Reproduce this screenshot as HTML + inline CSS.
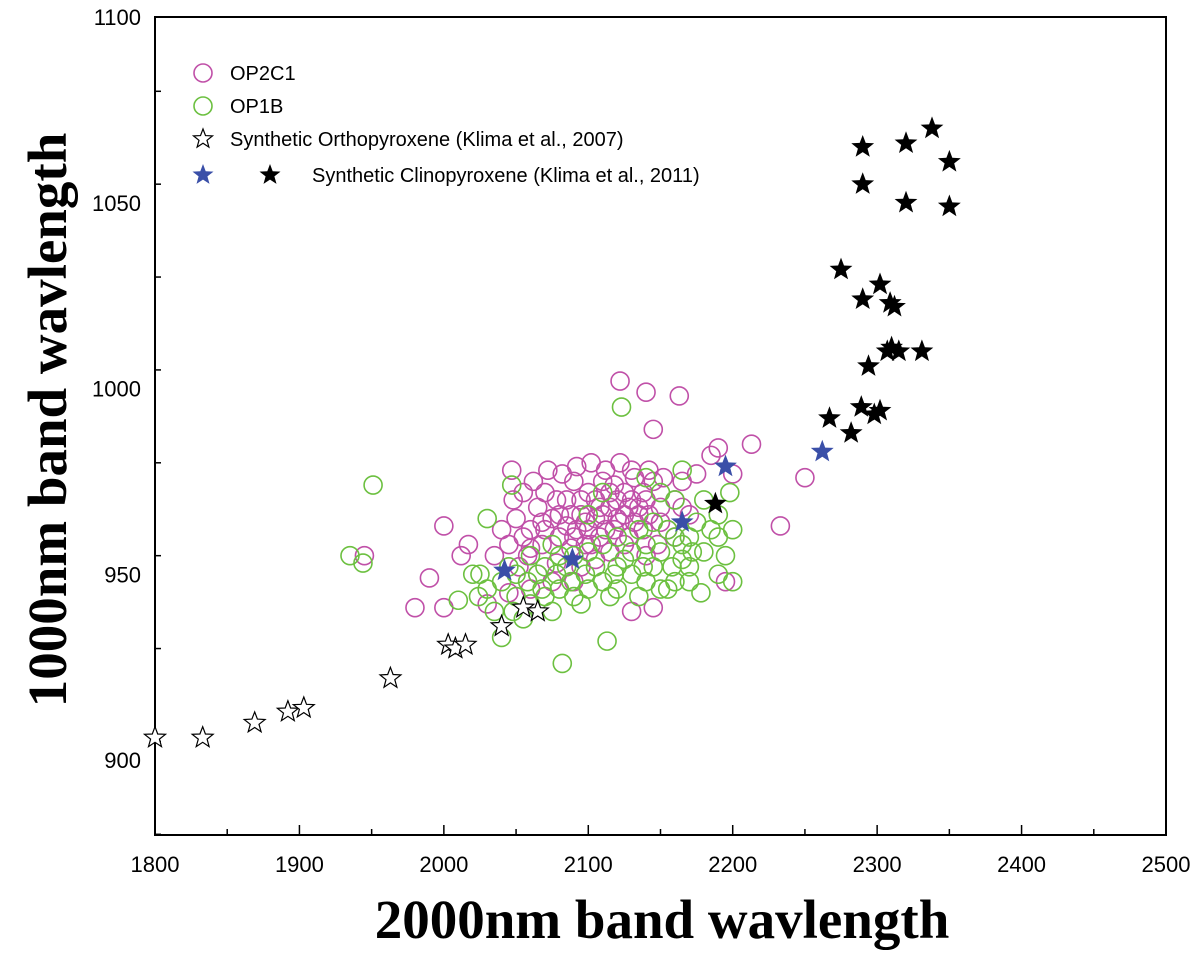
<!DOCTYPE html>
<html><head><meta charset="utf-8"><style>body{margin:0;background:#fff}svg{display:block}</style></head>
<body>
<svg id="chart" width="1200" height="958" xmlns="http://www.w3.org/2000/svg"></svg>
<script>
const xTicks=[1800,1900,2000,2100,2200,2300,2400,2500];
const yTicks=[900,950,1000,1050,1100];
const op2c1=[[2122,1002],[2140,999],[2163,998],[2145,989],[2213,985],[2250,976],[2233,963],[2000,963],[1945,955],[1990,949],[1980,941],[2000,941],[2047,978],[2048,970],[2017,958],[2012,955],[2030,942],[2145,941],[2130,940],[2195,948],[2190,984],[2200,977],[2175,977],[2185,982],
[2050,965],[2055,960],[2060,962],[2065,968],[2070,972],[2075,965],[2080,960],[2085,970],[2090,975],[2095,966],[2100,962],[2105,970],[2110,975],[2115,968],[2120,965],[2125,972],[2130,978],[2135,966],[2140,970],[2145,975],[2150,968],[2155,962],[2160,970],[2165,975],[2058,955],[2068,958],[2078,953],[2088,957],[2098,958],[2108,960],[2118,962],[2128,960],[2138,962],[2148,958],[2062,975],[2072,978],[2082,977],[2092,979],[2102,980],[2112,978],[2122,980],[2132,976],[2142,978],[2152,976],[2085,963],[2095,970],[2105,965],[2115,972],[2125,966],[2135,968],[2110,966],[2120,970],[2130,970],[2100,972],[2090,960],[2080,966],[2070,962],[2060,957],[2052,952],[2045,958],[2040,962],[2035,955],[2065,950],[2075,948],[2140,955],[2150,964],[2160,960],[2170,966],[2125,958],[2115,956],[2105,954],[2095,952],[2055,972],[2165,968],[2045,945],[2060,946],[2090,948],
[2118,974],[2128,968],[2138,972],[2108,968],[2098,964],[2088,966],[2078,970],[2068,964],[2112,962],[2122,964],[2132,964],[2142,966],[2102,958],[2092,962]];
const op1b=[[1951,974],[1935,955],[1944,953],[2123,995],[2082,926],[2113,932],[2040,933],[2030,965],[2200,962],[2198,972],[2200,948],[2190,950],[2178,945],[2010,943],[2024,944],[2047,974],[2020,950],[2030,946],[2040,948],[2050,944],[2060,942],[2070,944],[2080,946],[2090,944],[2100,946],[2110,948],[2120,946],[2130,950],[2140,948],[2150,946],[2160,948],[2170,952],[2180,956],[2190,960],[2035,940],[2055,938],[2075,940],[2095,942],[2045,952],[2065,950],[2085,952],[2105,952],[2125,954],[2145,952],[2165,954],[2185,962],[2110,958],[2120,960],[2130,956],[2140,958],[2150,956],[2160,960],[2170,960],[2100,956],[2090,955],[2080,955],[2070,952],[2135,962],[2145,964],[2155,962],[2165,958],[2175,964],[2180,970],[2190,966],[2160,970],[2150,972],[2140,976],[2165,978],[2100,966],[2110,972],[2075,958],[2060,955],[2050,950],[2025,950],[2115,944],[2135,944],[2155,946],[2170,948],[2195,955],[2120,952],[2088,948],[2068,946],[2048,940],
[2058,948],[2078,950],[2098,950],[2118,950],[2138,952],[2158,952],[2172,956]];
const orthoStars=[[1800,906],[1833,906],[1869,910],[1892,913],[1903,914],[1963,922],[2003,931],[2008,930],[2015,931],[2040,936],[2055,941],[2065,940]];
const clinoBlue=[[2042,951],[2089,954],[2165,964],[2195,979],[2262,983]];
const clinoBlack=[[2188,969],[2267,992],[2282,988],[2289,995],[2298,993],[2302,994],[2294,1006],[2307,1010],[2310,1011],[2315,1010],[2331,1010],[2275,1032],[2290,1024],[2302,1028],[2309,1023],[2312,1022],[2290,1055],[2290,1065],[2320,1066],[2338,1070],[2350,1061],[2320,1050],[2350,1049]];

const L=155,R=1166,T=17,B=835;
const sx=v=>L+(v-1800)*(R-L)/700;
const sy=v=>T+(1100-v)*(760-T)/200;
const svg=document.getElementById('chart');
const NS='http://www.w3.org/2000/svg';
function mk(tag,attrs,parent){const e=document.createElementNS(NS,tag);for(const k in attrs)e.setAttribute(k,attrs[k]);(parent||svg).appendChild(e);return e;}
function starPts(cx,cy,r){let p=[];for(let i=0;i<10;i++){const a=-Math.PI/2+i*Math.PI/5;const rr=i%2?r*0.42:r;p.push((cx+rr*Math.cos(a)).toFixed(1)+','+(cy+rr*Math.sin(a)).toFixed(1));}return p.join(' ');}

const frame=mk('rect',{x:L,y:T,width:R-L,height:B-T,fill:'none',stroke:'#000','stroke-width':2});


for(let v=1800;v<=2500;v+=50){const x=sx(v);const major=v%100===0;const t=mk('line',{x1:x,x2:x,y1:B,y2:B-(major?10:6),stroke:'#000','stroke-width':1.5});

}
xTicks.forEach(v=>{const t=mk('text',{x:sx(v),y:B+37,'text-anchor':'middle','font-family':'Liberation Sans, sans-serif','font-size':22});t.textContent=v;

});
for(let v=880;v<=1100;v+=25){const y=sy(v);const major=v%50===0;const t=mk('line',{x1:L,x2:L+(major?10:6),y1:y,y2:y,stroke:'#000','stroke-width':1.5});

}
yTicks.forEach(v=>{const t=mk('text',{x:L-14,y:sy(v)+8,'text-anchor':'end','font-family':'Liberation Sans, sans-serif','font-size':22});t.textContent=v;

});
const xt=mk('text',{x:662,y:938,'text-anchor':'middle','font-family':'Liberation Serif, serif','font-size':55,'font-weight':'bold'});xt.textContent='2000nm band wavlength';


const yt=mk('text',{x:0,y:0,transform:'translate(66,420) rotate(-90)','text-anchor':'middle','font-family':'Liberation Serif, serif','font-size':55,'font-weight':'bold'});yt.textContent='1000nm band wavlength';



const g=mk('g',{});
op2c1.forEach(d=>{const c=mk('circle',{cx:sx(d[0]),cy:sy(d[1]),r:9,fill:'none',stroke:'#c050a8','stroke-width':1.6},g);

});
op1b.forEach(d=>{const c=mk('circle',{cx:sx(d[0]),cy:sy(d[1]),r:9,fill:'none',stroke:'#6cc040','stroke-width':1.6},g);

});
orthoStars.forEach(d=>{const s=mk('polygon',{points:starPts(sx(d[0]),sy(d[1]),11),fill:'#fff',stroke:'#000','stroke-width':1.2},g);

});
clinoBlack.forEach(d=>{const s=mk('polygon',{points:starPts(sx(d[0]),sy(d[1]),12),fill:'#000'},g);

});
clinoBlue.forEach(d=>{const s=mk('polygon',{points:starPts(sx(d[0]),sy(d[1]),12),fill:'#3a4fa8'},g);

});

const lg=mk('g',{});


const ff='Liberation Sans, sans-serif';
function ltxt(x,y,s){const t=mk('text',{x:x,y:y+7,'font-family':ff,'font-size':20},lg);t.textContent=s;

}
mk('circle',{cx:203,cy:73,r:9,fill:'none',stroke:'#c050a8','stroke-width':1.6},lg);ltxt(230,73,'OP2C1');
mk('circle',{cx:203,cy:106,r:9,fill:'none',stroke:'#6cc040','stroke-width':1.6},lg);ltxt(230,106,'OP1B');
mk('polygon',{points:starPts(203,139,10),fill:'#fff',stroke:'#000','stroke-width':1.2},lg);ltxt(230,139,'Synthetic Orthopyroxene (Klima et al., 2007)');
mk('polygon',{points:starPts(203,175,11),fill:'#3a4fa8'},lg);
mk('polygon',{points:starPts(270,175,11),fill:'#000'},lg);ltxt(312,175,'Synthetic Clinopyroxene (Klima et al., 2011)');
</script>
</body></html>
